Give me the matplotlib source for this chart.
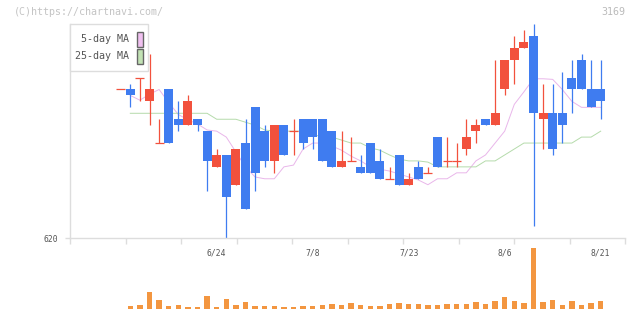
import matplotlib
matplotlib.use("Agg")
import matplotlib.pyplot as plt
from matplotlib.patches import Rectangle
import numpy as np

# daily candles (yen)
opens = [645, 645, 647, 643, 636, 645, 640, 639, 640, 638,
         632, 634, 629, 636, 642, 638, 633, 639, 638, 640,
         640, 640, 638, 632, 633, 632, 636, 633, 630, 634,
         629, 632, 631, 637, 633, 633, 635, 638, 640, 639,
         645, 650, 652, 654, 640, 641, 641, 647, 650, 645, 645]
highs = [645, 646, 647, 651, 640, 645, 643, 644, 640, 638,
         635, 634, 635, 640, 642, 639, 639, 639, 640, 640,
         640, 640, 638, 638, 637, 634, 636, 635, 632, 634,
         631, 633, 632, 637, 637, 636, 640, 640, 640, 650,
         650, 654, 655, 656, 646, 646, 648, 650, 651, 650, 650]
lows = [645, 642, 643, 639, 636, 636, 638, 639, 638, 628,
        632, 620, 629, 625, 628, 632, 631, 634, 634, 635,
        635, 633, 632, 632, 633, 631, 631, 630, 630, 629,
        629, 630, 631, 632, 632, 632, 634, 636, 639, 639,
        644, 646, 652, 622, 635, 634, 636, 641, 645, 642, 640]
closes = [645, 644, 647, 645, 636, 636, 639, 643, 639, 633,
          634, 627, 635, 625, 631, 633, 639, 634, 638, 636,
          637, 633, 632, 633, 633, 631, 631, 630, 630, 629,
          630, 630, 631, 632, 633, 633, 637, 639, 639, 641,
          650, 652, 653, 641, 641, 635, 639, 645, 645, 642, 643]

# volume (thousand shares), first day has none
volume = [0, 3, 4, 17, 9, 3, 4, 2, 2, 13, 2, 10, 4, 7, 3, 3, 3, 2, 2, 3, 3,
          4, 5, 4, 6, 4, 3, 3, 5, 6, 5, 5, 4, 4, 5, 5, 5, 7, 5, 8, 12,
          8, 6, 61, 7, 9, 4, 8, 4, 6, 8]

ma5 = [None, 644.0, 643.2, 644.2, 645.0, 642.8, 640.8, 639.9, 639.2, 638.2, 638.0,
       637.0, 634.5, 632.0, 630.3, 630.0, 630.0, 632.0, 632.3, 635.0, 636.0,
       636.0, 635.5, 634.8, 633.8, 633.0, 632.0, 631.6, 631.3, 630.8, 630.3,
       629.8, 629.0, 630.0, 630.0, 631.0, 631.0, 633.0, 634.0, 636.0, 638.0,
       642.5, 644.6, 646.8, 646.8, 646.7, 645.0, 643.0, 642.0, 642.0, 642.0]
ma25 = [None, 641, 641, 641, 641, 641, 641, 641, 641, 641, 640,
        640, 640, 639.5, 639, 638.2, 638, 638, 638, 638, 637.5,
        637, 637, 636.5, 636, 636, 635.2, 634.8, 634, 633.3, 633,
        633, 632.8, 632, 632, 632, 632, 632, 633, 633, 634,
        635, 636, 636, 636, 636, 636, 636, 637, 637, 638]

date_idx = [10, 20, 30, 40, 50]
date_labels = ["6/24", "7/8", "7/23", "8/6", "8/21"]

UP = "#f2513d"
DOWN = "#3f7cf0"
VOLC = "#f39640"
PINK = "#e9b6ea"
GREEN = "#b5dbab"
GRID = "#dddddd"
TXT = "#555555"
FONT = "DejaVu Sans Mono"

W, H = 640, 311
fig = plt.figure(figsize=(W / 100, H / 100), dpi=100)


def fx(px):
    return px / W


def fy(py):
    return 1 - py / H


xlim = ((70 - 120.7) / 9.6, (625 - 120.7) / 9.6)

ax = fig.add_axes([fx(70), fy(238.3), fx(625) - fx(70), fy(24) - fy(238.3)])
vax = fig.add_axes([fx(70), fy(309), fx(625) - fx(70), fy(245) - fy(309)])

x = np.arange(len(closes))

# moving averages behind the candles
xs = [i for i in x if ma5[i] is not None]
ax.plot(xs, [ma5[i] for i in xs], color=PINK, lw=0.7, zorder=1)
ax.plot(xs, [ma25[i] for i in xs], color=GREEN, lw=0.7, zorder=1)

bw = 0.92
for i in x:
    o, h, l, c = opens[i], highs[i], lows[i], closes[i]
    col = DOWN if c < o else UP
    ax.vlines(i, l, h, color=col, lw=0.9, zorder=2)
    if o == c:
        ax.hlines(o, i - bw / 2, i + bw / 2, color=col, lw=0.9, zorder=3)
    else:
        ax.bar(i, abs(c - o), bottom=min(o, c), width=bw, color=col,
               linewidth=0, zorder=3)

ax.set_xlim(*xlim)
ax.set_ylim(620, 656)
for s in ["top", "right"]:
    ax.spines[s].set_visible(False)
for s in ["left", "bottom"]:
    ax.spines[s].set_color(GRID)
    ax.spines[s].set_linewidth(1)
ax.set_xticks(np.linspace(xlim[0], xlim[1], 11))
ax.set_xticklabels([])
ax.set_yticks([620])
ax.set_yticklabels(["620"], fontfamily=FONT, fontsize=5.8, color=TXT)
ax.tick_params(axis="x", length=4.3, width=1, color=GRID, direction="out")
ax.tick_params(axis="y", length=3.6, width=1, color=GRID, direction="out", pad=5)
ax.patch.set_alpha(0)

for i, lab in zip(date_idx, date_labels):
    ax.annotate(lab, (i, 620), xytext=(0, -10.5), textcoords="offset points",
                ha="center", va="center", fontfamily=FONT, fontsize=5.8, color=TXT)

# volume
vax.bar(x, volume, width=0.56, color=VOLC, linewidth=0)
vax.set_xlim(*xlim)
vax.set_ylim(0, 64)
vax.axis("off")

# legend box
fig.patches.append(Rectangle((fx(70), fy(71)), fx(148) - fx(70), fy(24) - fy(71),
                             transform=fig.transFigure, facecolor="white",
                             edgecolor=GRID, lw=1, zorder=5))
for yy, lab, col in [(39, "5-day MA", "#f0c0f0"), (56, "25-day MA", "#c2e2b4")]:
    fig.text(fx(129), fy(yy), lab, ha="right", va="center", fontfamily=FONT,
             fontsize=7.2, color=TXT, zorder=6)
    fig.patches.append(Rectangle((fx(137), fy(yy + 7.5)), fx(142.5) - fx(137), fy(0) - fy(15),
                                 transform=fig.transFigure, facecolor=col,
                                 edgecolor="#666666", lw=1, zorder=6))

fig.text(fx(14), fy(12), "(C)https://chartnavi.com/", ha="left", va="center",
         fontfamily=FONT, fontsize=7.2, color="#c4c4c4")
fig.text(fx(625), fy(12), "3169", ha="right", va="center",
         fontfamily=FONT, fontsize=7.2, color="#bbbbbb")

fig.savefig("out.png", dpi=100, facecolor="white")
